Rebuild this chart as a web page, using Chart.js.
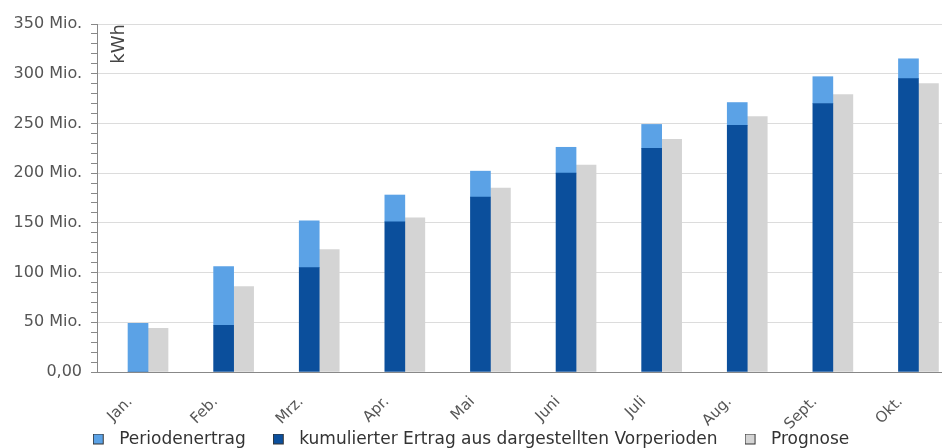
<!DOCTYPE html>
<html>
<head>
<meta charset="utf-8">
<script src="https://cdn.jsdelivr.net/npm/chart.js@4/dist/chart.umd.min.js"></script>
<style>
	body { margin: 0; background: #fff; }
	#wrap { width: 942px; height: 448px; }
</style>
</head>
<body>
<div id="wrap"><canvas id="graph" width="942" height="448"></canvas></div>
<script>
// values in Mio. kWh
const months = ["Jan.", "Feb.", "Mrz.", "Apr.", "Mai", "Juni", "Juli", "Aug.", "Sept.", "Okt."];
const periodenertrag = [49, 59, 47, 27, 26, 26, 24, 23, 27, 20];
const kumuliert = [0, 47, 105, 151, 176, 200, 225, 248, 270, 295];
const prognose = [44, 86, 123, 155, 185, 208, 234, 257, 279, 290];
const yTicks = [0, 50, 100, 150, 200, 250, 300, 350];

const legendOrder = ["Periodenertrag", "kumulierter Ertrag aus dargestellten Vorperioden", "Prognose"];

const font = "DejaVu Sans";

const toPoints = (arr) => arr.map((v, i) => ({ x: i, y: v }));

// small legend square, left part of a wider image so the text sits further right
function legendBox(color) {
	const cv = document.createElement("canvas");
	cv.width = 18;
	cv.height = 12;
	const c = cv.getContext("2d");
	c.fillStyle = color;
	c.fillRect(0.5, 0.5, 10, 10);
	c.strokeStyle = "#333";
	c.lineWidth = 1;
	c.strokeRect(0.5, 0.5, 10, 10);
	return cv;
}

// "kWh" written upwards at the top of the value axis
const unitLabel = {
	id: "unitLabel",
	afterLayout(chart) {
		// month labels hang down into the legend area, don't clip them
		chart.scales.x.bottom = chart.height;
	},
	afterDraw(chart) {
		const c = chart.ctx;
		const area = chart.chartArea;
		c.save();
		c.translate(area.left + 22, area.top);
		c.rotate(-Math.PI / 2);
		c.font = "18px '" + font + "'";
		c.fillStyle = "#444";
		c.textAlign = "right";
		c.textBaseline = "middle";
		c.fillText("kWh", 0, 0);
		c.restore();
	},
};

const ctx = document.getElementById("graph").getContext("2d");
const barChart = new Chart(ctx, {
	type: "bar",
	data: {
		datasets: [
			{
				label: "kumulierter Ertrag aus dargestellten Vorperioden",
				data: toPoints(kumuliert),
				backgroundColor: "#0b4f9c",
				stack: "ist",
			},
			{
				label: "Periodenertrag",
				data: toPoints(periodenertrag),
				backgroundColor: "#5ba2e6",
				stack: "ist",
			},
			{
				label: "Prognose",
				data: toPoints(prognose),
				backgroundColor: "#d4d4d4",
				stack: "prognose",
			},
		],
	},
	options: {
		responsive: false,
		animation: false,
		barThickness: 20,
		layout: { padding: { top: 24, right: 0, left: 0, bottom: -10 } },
		scales: {
			x: {
				type: "linear",
				bounds: "data",
				offset: false,
				min: -0.596,
				max: 9.275,
				afterBuildTicks: (scale) => {
					scale.ticks = months.map((m, i) => ({ value: i }));
				},
				afterFit: (scale) => {
					scale.height = 32;
					scale.paddingLeft = 0;
					scale.paddingRight = 0;
				},
				grid: { display: false, drawTicks: false },
				border: { color: "#888", width: 1 },
				ticks: {
					autoSkip: false,
					maxRotation: 45,
					minRotation: 45,
					padding: 21,
					labelOffset: -18,
					color: "#555",
					font: { family: font, size: 15 },
					callback: (v) => months[v],
				},
			},
			y: {
				stacked: true,
				min: 0,
				max: 350,
				afterFit: (scale) => {
					scale.width = 97;
				},
				grid: {
					color: (c) => (yTicks.includes(c.tick.value) && c.tick.value > 0 ? "#dcdcdc" : "rgba(0,0,0,0)"),
					tickColor: "#888",
					tickLength: 6,
					lineWidth: 1,
				},
				border: { color: "#888", width: 1 },
				ticks: {
					stepSize: 10,
					autoSkip: false,
					padding: 9,
					color: "#555",
					font: { family: font, size: 16 },
					callback: (v) => {
						if (!yTicks.includes(v)) return "";
						return v === 0 ? "0,00" : v + " Mio.";
					},
				},
			},
		},
		plugins: {
			tooltip: { enabled: false },
			legend: {
				position: "bottom",
				labels: {
					usePointStyle: true,
					pointStyleWidth: 18,
					boxHeight: 12,
					padding: 27,
					color: "#333",
					font: { family: font, size: 17 },
					sort: (a, b) => legendOrder.indexOf(a.text) - legendOrder.indexOf(b.text),
					generateLabels: (chart) => {
						const items = Chart.defaults.plugins.legend.labels.generateLabels(chart);
						items.forEach((it) => {
							it.pointStyle = legendBox(it.fillStyle);
						});
						return items;
					},
				},
			},
		},
	},
	plugins: [unitLabel],
});
</script>
</body>
</html>
